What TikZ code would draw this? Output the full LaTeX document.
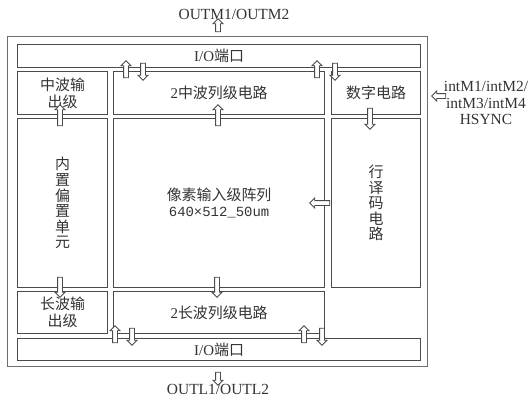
\documentclass[tikz,border=0pt]{standalone}
\usepackage{fontspec}
\setmainfont{Liberation Serif}
\newfontfamily\cjk{Noto Sans CJK SC}
\newfontfamily\monof{Liberation Mono}
\usetikzlibrary{shapes.arrows}
\definecolor{ln}{HTML}{4A4A4A}
\definecolor{lno}{HTML}{6E6E6E}
\definecolor{txt}{HTML}{333333}
\begin{document}
\begin{tikzpicture}[x=1bp,y=-1bp,
  box/.style={draw=ln, line width=1.2bp, anchor=north west, inner sep=0pt, align=center, text=txt,
    font={\cjk\fontsize{15}{17}\selectfont}},
  vbox/.style={box, font={\cjk\fontsize{15}{15.6}\selectfont}},
  lbl/.style={text=txt, align=center, inner sep=0pt, font={\fontsize{15.5}{17}\selectfont}},
  barr/.style={single arrow, draw=ln, fill=white, line width=0.9bp, inner xsep=0pt, inner ysep=2bp,
    single arrow head extend=2.5bp, minimum height=#1},
  aup/.style={rotate=90},
  adown/.style={rotate=-90},
  aleft/.style={rotate=180}]
\useasboundingbox (0,0) rectangle (530,403);
% outer frame
\node[draw=lno, line width=1bp, anchor=north west, inner sep=0pt, minimum width=420bp, minimum height=330bp] (outer) at (7,36) {};
% boxes
\node[box, minimum width=403bp, minimum height=23bp] (ioT) at (17,44) {\rmfamily I/O\cjk 端口};
\node[box, minimum width=90bp, minimum height=43bp] (mout) at (17,71) {中波输\\出级};
\node[box, minimum width=211bp, minimum height=43bp] (mcol) at (113,71) {{\rmfamily 2}中波列级电路};
\node[box, minimum width=89bp, minimum height=43bp] (digit) at (331,71) {数字电路};
\node[vbox, minimum width=90bp, minimum height=169bp] (bias) at (17,118) {内\\置\\偏\\置\\单\\元};
\node[box, minimum width=211bp, minimum height=169bp] (arr) at (113,118) {像素输入级阵列\\[-1pt]{\monof\fontsize{14}{15}\selectfont 640×512\_50um}};
\node[vbox, minimum width=89bp, minimum height=169bp] (dec) at (331,118) {行\\译\\码\\电\\路};
\node[box, minimum width=90bp, minimum height=42bp] (lout) at (17,291) {长波输\\出级};
\node[box, minimum width=211bp, minimum height=42bp] (lcol) at (113,291) {{\rmfamily 2}长波列级电路};
\node[box, minimum width=403bp, minimum height=22bp] (ioB) at (17,338) {\rmfamily I/O\cjk 端口};
% outside labels
\node[lbl] (outm) at (234,14) {OUTM1/OUTM2};
\node[lbl] (outl) at (218,389) {OUTL1/OUTL2};
\node[lbl, font={\fontsize{15.5}{17}\selectfont}] (intm) at (486,103) {intM1/intM2/\\intM3/intM4\\HSYNC};
% block arrows
\node[barr=13bp, aup] (aOM) at (218,26.5) {};
\node[barr=17bp, aup] (a1) at (126,70.5) {};
\node[barr=17bp, adown] (a2) at (143,70.5) {};
\node[barr=17bp, aup] (a3) at (317,70.5) {};
\node[barr=17bp, adown] (a4) at (335,70.5) {};
\node[barr=21bp, aup] (a5) at (60,116.5) {};
\node[barr=21bp, aup] (a6) at (218,116.5) {};
\node[barr=21bp, adown] (a7) at (370,117.5) {};
\node[barr=20bp, aleft] (a8) at (321,203) {};
\node[barr=20bp, adown] (a9) at (60,286) {};
\node[barr=20bp, adown] (a10) at (217,286) {};
\node[barr=17bp, aup] (a11) at (115,335.5) {};
\node[barr=17bp, adown] (a12) at (132,335.5) {};
\node[barr=17bp, aup] (a13) at (304,335.5) {};
\node[barr=17bp, adown] (a14) at (322,335.5) {};
\node[barr=13bp, adown] (a15) at (218,377.5) {};
\node[barr=14bp, aleft] (a16) at (440,96) {};
\end{tikzpicture}
\end{document}
